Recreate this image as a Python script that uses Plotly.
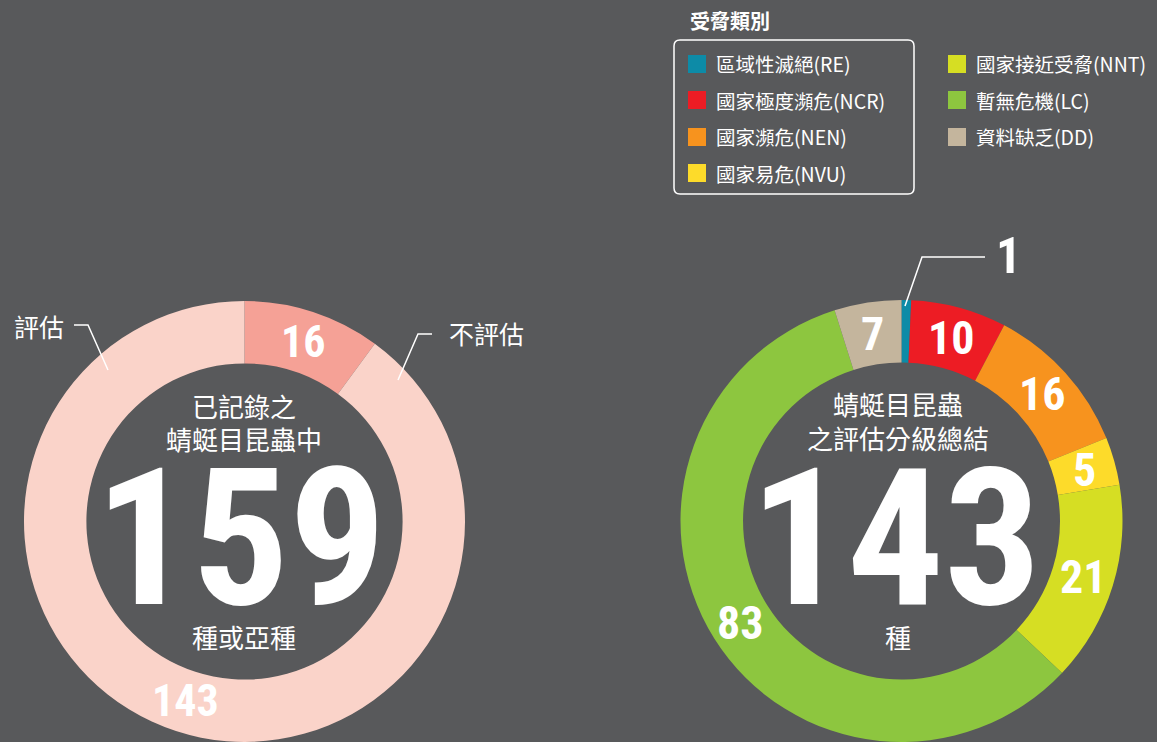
import math
import plotly.graph_objects as go

W, H = 1157, 742

# ---------------- data ----------------
left_labels = ["不評估", "評估"]
left_values = [16, 143]
left_colors = ["#f5a196", "#fad3c9"]

cat_labels = ["區域性滅絕(RE)", "國家極度瀕危(NCR)", "國家瀕危(NEN)", "國家易危(NVU)",
              "國家接近受脅(NNT)", "暫無危機(LC)", "資料缺乏(DD)"]
cat_values = [1, 10, 16, 5, 21, 83, 7]
cat_colors = ["#0d8ba7", "#ed1c24", "#f7931e", "#fddb2a", "#d6de23", "#8dc63f", "#c4b59d"]

legend_title = "受脅類別"
left_center_top = ["已記錄之", "蜻蜓目昆蟲中"]
left_center_bottom = "種或亞種"
right_center_top = ["蜻蜓目昆蟲", "之評估分級總結"]
right_center_bottom = "種"

BG = "#58595b"
NUM_FONT = "Liberation Sans Narrow, Roboto Condensed, DejaVu Sans Condensed, Arial Narrow, sans-serif"
CJK_FONT = "Noto Sans CJK TC, Noto Sans CJK SC, sans-serif"


def px(x):
    return x / W


def py(y):
    return 1 - y / H


# donut geometry (pixels)
L_CX, L_CY, L_R = 244.5, 521.5, 220.5
R_CX, R_CY, R_R = 901.5, 521.5, 221.5
HOLE = 0.717

fig = go.Figure()

fig.add_trace(go.Pie(
    labels=left_labels, values=left_values, sort=False, direction="clockwise", rotation=0,
    hole=HOLE, marker=dict(colors=left_colors, line=dict(width=0)),
    textinfo="none",
    domain=dict(x=[px(L_CX - L_R), px(L_CX + L_R)], y=[0, py(L_CY - L_R)]),
    showlegend=False, hoverinfo="label+value",
))

fig.add_trace(go.Pie(
    labels=cat_labels, values=cat_values, sort=False, direction="clockwise", rotation=0,
    hole=HOLE, marker=dict(colors=cat_colors, line=dict(width=0)),
    textinfo="none",
    domain=dict(x=[px(R_CX - R_R), px(R_CX + R_R)], y=[0, py(R_CY - R_R)]),
    showlegend=False, hoverinfo="label+value",
))

ann = []
shapes = []


def slice_labels(values, cx, cy, r, size, skip_min=False):
    total = sum(values)
    cum = 0
    rm = r * (1 + HOLE) / 2
    for v in values:
        mid = (cum + v / 2) / total * 2 * math.pi
        cum += v
        if skip_min and v == min(values):
            continue
        x = cx + rm * math.sin(mid)
        y = cy - rm * math.cos(mid)
        ann.append(dict(x=px(x), y=py(y), text=str(v), showarrow=False,
                        xanchor="center", yanchor="middle",
                        font=dict(family=NUM_FONT, size=size, color="white", weight="bold")))


slice_labels(left_values, L_CX, L_CY, L_R, 44)
slice_labels(cat_values, R_CX, R_CY, R_R, 46, skip_min=True)


def txt(x, y, text, size, family=CJK_FONT, xanchor="center", bold=False):
    ann.append(dict(x=px(x), y=py(y), text=text, showarrow=False, xanchor=xanchor, yanchor="middle",
                    font=dict(family=family, size=size, color="white",
                              weight="bold" if bold else "normal")))


# center texts
for i, t in enumerate(left_center_top):
    txt(244, 405 + 33 * i, t, 26)
txt(240, 538, str(sum(left_values)), 192, NUM_FONT, bold=True)
txt(244, 636, left_center_bottom, 26)

for i, t in enumerate(right_center_top):
    txt(898, 403 + 34 * i, t, 26)
txt(895, 538, str(sum(cat_values)), 192, NUM_FONT, bold=True)
txt(898, 636, right_center_bottom, 26)

# outside labels with leader lines
txt(12, 326, left_labels[1], 25, xanchor="left")
txt(447, 333, left_labels[0], 25, xanchor="left")
txt(994, 256, str(min(cat_values)), 50, NUM_FONT, xanchor="left", bold=True)

line_style = dict(color="white", width=1.5)
for pts in ([(74, 325), (88, 325), (108, 370)],
            [(432, 334), (418, 334), (398, 380)],
            [(985, 257), (922, 257), (905, 306)]):
    path = "M " + " L ".join(f"{px(x)},{py(y)}" for x, y in pts)
    shapes.append(dict(type="path", xref="paper", yref="paper", path=path, line=line_style))

# legend
txt(688, 21, legend_title, 20, xanchor="left", bold=True)
x0, y0, x1, y1, r = 674, 40, 914, 194, 6
rr = (f"M {px(x0 + r)},{py(y0)} L {px(x1 - r)},{py(y0)} Q {px(x1)},{py(y0)} {px(x1)},{py(y0 + r)} "
      f"L {px(x1)},{py(y1 - r)} Q {px(x1)},{py(y1)} {px(x1 - r)},{py(y1)} "
      f"L {px(x0 + r)},{py(y1)} Q {px(x0)},{py(y1)} {px(x0)},{py(y1 - r)} "
      f"L {px(x0)},{py(y0 + r)} Q {px(x0)},{py(y0)} {px(x0 + r)},{py(y0)} Z")
shapes.append(dict(type="path", xref="paper", yref="paper", path=rr,
                   line=dict(color="white", width=1.5)))

row_y = [64, 100, 137, 173]
for i, (lab, col) in enumerate(zip(cat_labels, cat_colors)):
    if i < 4:
        sx, ty = 688, row_y[i]
    else:
        sx, ty = 948, row_y[i - 4]
    shapes.append(dict(type="rect", xref="paper", yref="paper",
                       x0=px(sx), x1=px(sx + 18), y0=py(ty - 9), y1=py(ty + 9),
                       fillcolor=col, line=dict(width=0)))
    txt(sx + 26, ty, lab, 19.5, xanchor="left")

fig.update_layout(
    width=W, height=H, margin=dict(l=0, r=0, t=0, b=0),
    paper_bgcolor=BG, plot_bgcolor=BG,
    annotations=ann, shapes=shapes,
)

fig.write_html("out.html", config={"displayModeBar": False},
               post_script="document.body.style.margin='0';document.body.style.padding='0';")
